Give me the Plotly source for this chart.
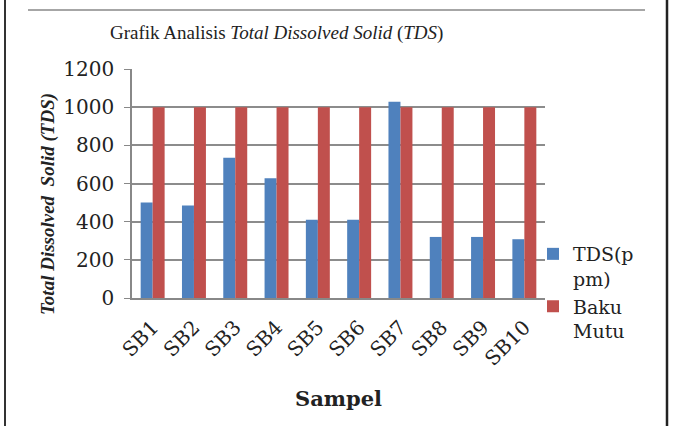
import plotly.graph_objects as go

categories = ["SB1", "SB2", "SB3", "SB4", "SB5", "SB6", "SB7", "SB8", "SB9", "SB10"]
tds_values = [500, 485, 735, 627, 410, 410, 1028, 320, 320, 308]
baku_mutu = [1000, 1000, 1000, 1000, 1000, 1000, 1000, 1000, 1000, 1000]
y_ticks = [0, 200, 400, 600, 800, 1000, 1200]

W, H = 674, 426
L, R, T, B = 132, 129, 69, 128
PW, PH = W - L - R, H - T - B

def px(x):
    return (x - L) / PW

def py(y):
    return (H - B - y) / PH

fig = go.Figure()
fig.add_trace(go.Bar(x=categories, y=tds_values, name="TDS(p<br>pm)",
                     marker=dict(color="#4F81BD", line=dict(width=0))))
fig.add_trace(go.Bar(x=categories, y=baku_mutu, name="Baku<br>Mutu",
                     marker=dict(color="#C0504D", line=dict(width=0))))

tickfont = dict(family="DejaVu Serif", size=20, color="#222")

fig.update_layout(
    width=W, height=H,
    margin=dict(l=L, r=R, t=T, b=B),
    paper_bgcolor="white", plot_bgcolor="white",
    barmode="group", bargap=0.42, bargroupgap=0,
    showlegend=True,
    legend=dict(x=px(533), y=py(235), xanchor="left", yanchor="top",
                font=dict(family="DejaVu Serif", size=19, color="#222"),
                tracegroupgap=7, itemwidth=30, valign="top", bgcolor="rgba(0,0,0,0)"),
    xaxis=dict(type="category", showgrid=False, showline=True, linecolor="#888",
               linewidth=1.5, ticks="", tickangle=-45, tickfont=tickfont,
               ticklabelstandoff=8),
    yaxis=dict(range=[0, 1200], tickvals=y_ticks, showgrid=True, gridcolor="#8c8c8c",
               gridwidth=1.5, showline=True, linecolor="#888", linewidth=1.5,
               ticks="outside", ticklen=6, tickcolor="#888", tickfont=tickfont,
               zeroline=False, ticklabelstandoff=6),
    annotations=[
        dict(text="Grafik Analisis <i>Total Dissolved Solid</i> (<i>TDS</i>)",
             x=px(276), y=py(33), xref="paper", yref="paper", showarrow=False,
             xanchor="center", yanchor="middle",
             font=dict(family="Liberation Serif", size=19, color="#222")),
        dict(text="<b><i>Total Dissolved  Solid (TDS)</i></b>",
             x=px(48), y=py(204), xref="paper", yref="paper", showarrow=False,
             textangle=-90, xanchor="center", yanchor="middle",
             font=dict(family="Liberation Serif", size=19, color="#222")),
        dict(text="<b>Sampel</b>", x=px(338), y=py(398), xref="paper", yref="paper",
             showarrow=False, xanchor="center", yanchor="middle",
             font=dict(family="DejaVu Serif", size=21, color="#222")),
    ],
    shapes=[
        dict(type="line", xref="paper", yref="paper", x0=px(5), x1=px(5), y0=py(0), y1=py(426),
             line=dict(color="#333", width=2)),
        dict(type="line", xref="paper", yref="paper", x0=px(667), x1=px(667), y0=py(0), y1=py(426),
             line=dict(color="#222", width=2.5)),
        dict(type="line", xref="paper", yref="paper", x0=px(28), x1=px(645), y0=py(10), y1=py(10),
             line=dict(color="#888", width=1.5)),
    ],
)

fig.write_html("out.html")
